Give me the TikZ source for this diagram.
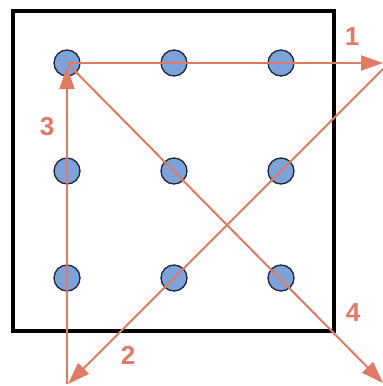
\documentclass[tikz,border=0pt]{standalone}
\usepackage{fontspec}
\setmainfont{Liberation Sans}
\usetikzlibrary{arrows.meta}
\definecolor{salmon}{RGB}{224,122,100}
\definecolor{dotblue}{RGB}{125,162,218}
\definecolor{dotline}{RGB}{30,38,58}
\begin{document}
\begin{tikzpicture}[x=1pt,y=-1pt,
  dot/.style={circle,draw=dotline,line width=1.3pt,fill=dotblue,minimum size=26pt,inner sep=0pt},
  move/.style={draw=salmon,line width=2pt,-{Triangle[length=22pt,width=15pt]}},
  lbl/.style={text=salmon,font=\fontsize{26}{26}\selectfont\bfseries}]
\useasboundingbox (0,0) rectangle (383,386);
\fill[white] (0,0) rectangle (383,386);
\draw[line width=3.5pt] (13,11) rectangle (334,331);
\foreach \c/\x in {a/67,b/174,c/281}{
  \foreach \r/\y in {1/63,2/171,3/278}{
    \node[dot] (\c\r) at (\x,\y) {};
  }
}
\coordinate (t1) at (383,63);
\coordinate (s2) at (383,69);
\coordinate (t2) at (68,384);
\coordinate (s3) at (67,384);
\coordinate (t3) at (67,67);
\coordinate (t4) at (383,383);
\draw[move] (a1.center) -- (t1);
\draw[move] (s2) -- (t2);
\draw[move] (s3) -- (t3);
\draw[move] (a1.center) -- (t4);
\node[lbl] (n1) at (352,37) {1};
\node[lbl] (n2) at (128,355) {2};
\node[lbl] (n3) at (47,127) {3};
\node[lbl] (n4) at (353,313) {4};
\end{tikzpicture}
\end{document}
